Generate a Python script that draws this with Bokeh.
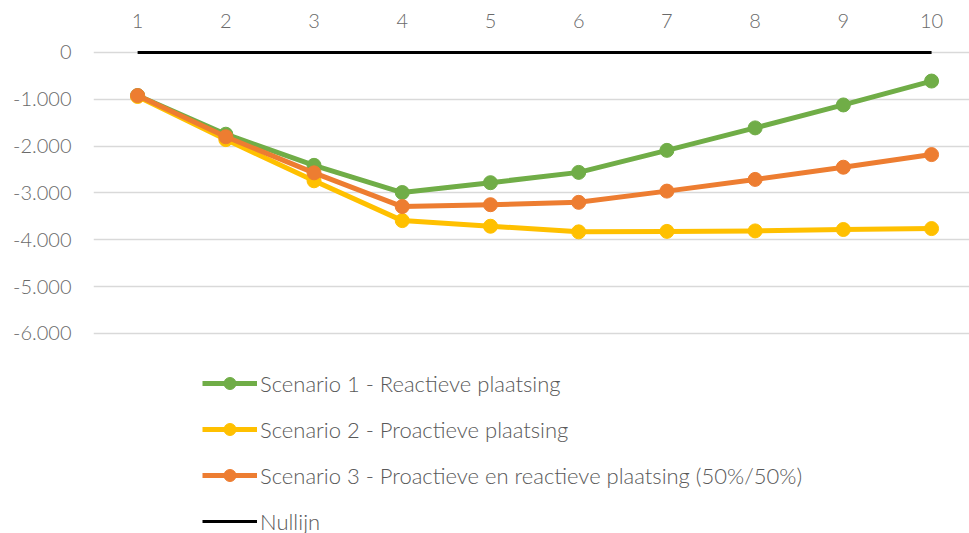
from bokeh.plotting import figure
from bokeh.models import FixedTicker, Legend, LegendItem, Range1d
from bokeh.embed import file_html
from bokeh.resources import INLINE

years = [1, 2, 3, 4, 5, 6, 7, 8, 9, 10]
x_tick_labels = ["1", "2", "3", "4", "5", "6", "7", "8", "9", "10"]
scenario1 = [-920, -1745, -2410, -2990, -2780, -2560, -2090, -1610, -1120, -610]
scenario2 = [-940, -1860, -2740, -3590, -3710, -3830, -3820, -3810, -3780, -3760]
scenario3 = [-920, -1800, -2570, -3290, -3250, -3200, -2960, -2710, -2450, -2180]
nullijn = [0, 0, 0, 0, 0, 0, 0, 0, 0, 0]
y_ticks = [0, -1000, -2000, -3000, -4000, -5000, -6000]
y_tick_labels = ["0", "-1.000", "-2.000", "-3.000", "-4.000", "-5.000", "-6.000"]

names = ["Scenario 1 - Reactieve plaatsing",
         "Scenario 2 - Proactieve plaatsing",
         "Scenario 3 - Proactieve en reactieve plaatsing (50%/50%)",
         "Nullijn"]
colors = ["#70AD47", "#FFC000", "#ED7D31", "#000000"]

FONT = "Lato Light"
TXT = "#595959"
TICK = "#6a6a6a"

p = figure(width=969, height=533,
           x_range=Range1d(0.5, 10.43), y_range=Range1d(-10271, 256),
           output_backend="svg", toolbar_location=None,
           x_axis_location="above",
           min_border_left=93, min_border_right=0,
           min_border_top=40, min_border_bottom=0)
p.outline_line_color = None
p.background_fill_color = "white"

p.xgrid.visible = False
p.ygrid.ticker = FixedTicker(ticks=y_ticks)
p.ygrid.grid_line_color = "#D9D9D9"
p.ygrid.grid_line_width = 1.5

p.xaxis.ticker = FixedTicker(ticks=years)
p.xaxis.major_label_overrides = {x: l for x, l in zip(years, x_tick_labels)}
p.yaxis.ticker = FixedTicker(ticks=y_ticks)
p.yaxis.major_label_overrides = {y: l for y, l in zip(y_ticks, y_tick_labels)}
for ax in (p.xaxis[0], p.yaxis[0]):
    ax.axis_line_color = None
    ax.major_tick_line_color = None
    ax.minor_tick_line_color = None
    ax.major_tick_out = 0
    ax.major_tick_in = 0
    ax.major_label_text_font = FONT
    ax.major_label_text_font_size = "20px"
    ax.major_label_text_color = TICK
p.yaxis.major_label_standoff = 22
p.xaxis.major_label_standoff = 13

r_null = p.line(years, nullijn, line_color=colors[3], line_width=3)

items = []
for data, name, col in zip([scenario1, scenario2, scenario3], names[:3], colors[:3]):
    l = p.line(years, data, line_color=col, line_width=5, line_join="round")
    s = p.scatter(years, data, size=14, fill_color=col, line_color=col)
    items.append(LegendItem(label=name, renderers=[l, s]))
items.append(LegendItem(label=names[3], renderers=[r_null]))

legend = Legend(items=items, location=(109, -3), orientation="vertical",
                glyph_width=55, glyph_height=30, label_height=30,
                label_standoff=3, spacing=16, padding=0, margin=0,
                border_line_color=None, background_fill_alpha=0,
                label_text_font=FONT, label_text_font_size="22px",
                label_text_color=TXT)
p.add_layout(legend)

open("out.html", "w").write(file_html(p, INLINE))
